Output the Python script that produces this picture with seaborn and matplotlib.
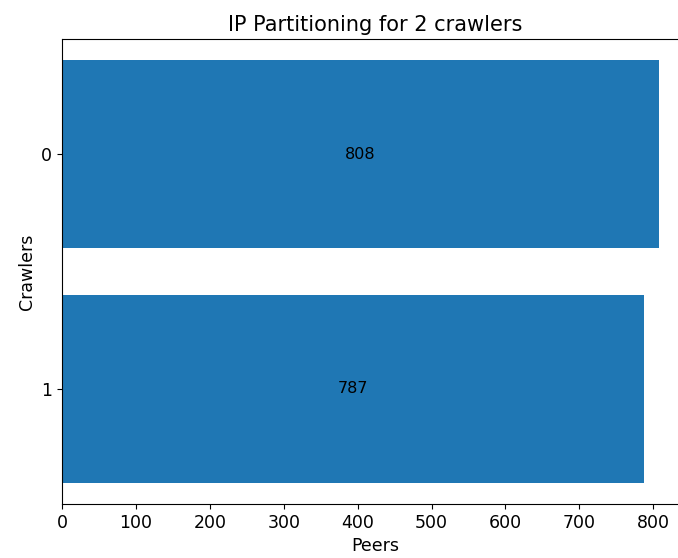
import pandas as pd
import seaborn as sns
import matplotlib.pyplot as plt

crawlers = ["0", "1"]
peers = [808, 787]

df = pd.DataFrame({"Crawlers": crawlers, "Peers": peers})

fig = plt.figure(figsize=(6.78, 5.58), dpi=100)
ax = fig.add_axes([62 / 678, 54 / 558, 627 / 678, 465 / 558])
sns.barplot(x="Peers", y="Crawlers", data=df, orient="h", color="#1f77b4",
            saturation=1, width=0.8, ax=ax)
ax.bar_label(ax.containers[0], label_type="center", fontsize=11.5)
ax.set_xlim(0, 808 * 1.05)
ax.set_ylim(1.49, -0.49)
ax.set_xticks(range(0, 900, 100))
ax.set_title("IP Partitioning for 2 crawlers", fontsize=15)
ax.set_xlabel("Peers", fontsize=12.5)
ax.set_ylabel("Crawlers", fontsize=12.5)
ax.tick_params(labelsize=12.5)
plt.savefig("out.png", dpi=100)
